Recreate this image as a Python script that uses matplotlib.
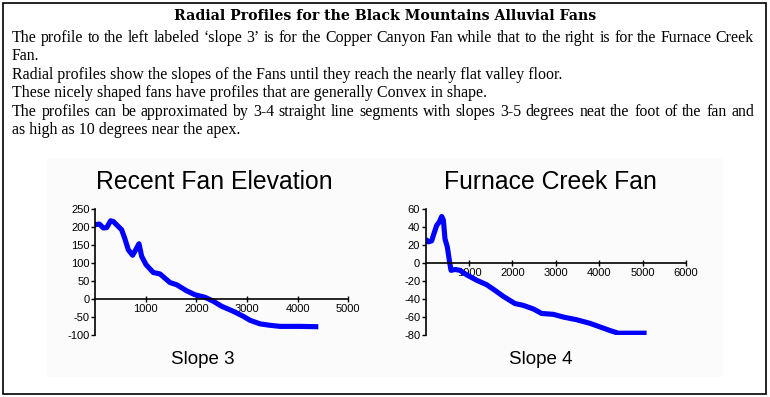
import matplotlib.pyplot as plt
from matplotlib.patches import Rectangle

# Copper Canyon fan ("Recent Fan Elevation"), distance (m) vs elevation (m)
left_x = [0, 85, 165, 230, 309, 362, 526, 592, 658, 743, 822, 868, 921, 1007, 1151,
          1283, 1382, 1480, 1612, 1809, 1974, 2171, 2336, 2500, 2730, 2928, 3059,
          3257, 3454, 3651, 4046, 4408]
left_y = [207, 209, 198, 199, 218, 216, 193, 167, 137, 122, 142, 154, 119, 96, 74,
          70, 58, 46, 40, 23, 12, 5, -6, -20, -34, -48, -59,
          -69, -73, -76, -76, -77]

# Furnace Creek fan
right_x = [0, 61, 138, 177, 253, 315, 369, 407, 445, 499, 545, 584, 676, 791, 945,
           1175, 1406, 1559, 1790, 2058, 2250, 2481, 2673, 2942, 3172, 3479, 3786,
           4017, 4247, 4439, 4708, 5092]
right_y = [26.7, 23.7, 24.9, 31, 42, 46, 52, 48, 27, 18, 3, -8, -7, -8, -13,
           -19, -24, -29, -37, -45, -47, -51, -56, -57, -60, -63, -67,
           -71, -75, -78, -78, -78]

left_xticks = [1000, 2000, 3000, 4000, 5000]
left_yticks = [-100, -50, 0, 50, 100, 150, 200, 250]
right_xticks = [1000, 2000, 3000, 4000, 5000, 6000]
right_yticks = [-80, -60, -40, -20, 0, 20, 40, 60]

title = "Radial Profiles for the Black Mountains Alluvial Fans"
body = [
    "The profile to the left labeled \u2018slope 3\u2019 is for the Copper Canyon Fan while that to the right is for the Furnace Creek",
    "Fan.",
    "Radial profiles show the slopes of the Fans until they reach the nearly flat valley floor.",
    "These nicely shaped fans have profiles that are generally Convex in shape.",
    "The profiles can be approximated  by 3-4 straight line segments with slopes 3-5 degrees neat the foot of the fan and",
    "as high as 10 degrees near the apex.",
]
justified = [True, False, False, False, True, False]

plt.rcParams["axes.unicode_minus"] = False

W, H = 770, 397
fig = plt.figure(figsize=(W / 100, H / 100), dpi=100)
renderer = fig.canvas.get_renderer()


def fx(px):
    return px / W


def fy(py):
    return 1 - py / H


# outer frame and faint chart background
fig.patches.append(Rectangle((fx(3), fy(394)), fx(763), 391 / H, transform=fig.transFigure,
                             fill=False, edgecolor="black", lw=1.2, zorder=5))
fig.patches.append(Rectangle((fx(47), fy(377)), fx(676), 219 / H, transform=fig.transFigure,
                             facecolor="#fbfbfb", edgecolor="none", zorder=-5))

fig.text(fx(385), fy(20), title, ha="center", va="baseline", family="DejaVu Serif",
         weight="bold", fontsize=10.2)

text_kw = dict(va="baseline", family="Liberation Serif", fontsize=11.45)
x0, x1 = 12, 754
for i, line in enumerate(body):
    yb = fy(42 + 18.4 * i)
    if not justified[i]:
        fig.text(fx(x0), yb, line, ha="left", **text_kw)
        continue
    # spread words so the line fills the box width
    words = line.split()
    widths = []
    for w in words:
        t = fig.text(0, 0, w, **text_kw)
        widths.append(t.get_window_extent(renderer).width)
        t.remove()
    gap = (x1 - x0 - sum(widths)) / (len(words) - 1)
    px = x0
    for w, wd in zip(words, widths):
        fig.text(fx(px), yb, w, ha="left", **text_kw)
        px += wd + gap


def profile(rect, xs, ys, xlim, ylim, xticks, yticks, name, slope, cx, sx):
    ax = fig.add_axes(rect)
    ax.patch.set_alpha(0)
    ax.plot(xs, ys, color="#0000ff", lw=3.7, solid_capstyle="butt")
    ax.set_xlim(*xlim)
    ax.set_ylim(*ylim)
    ax.spines["top"].set_visible(False)
    ax.spines["right"].set_visible(False)
    ax.spines["bottom"].set_position(("data", 0))
    for s in ("left", "bottom"):
        ax.spines[s].set_linewidth(1.2)
    ax.set_xticks(xticks)
    ax.set_yticks(yticks)
    ax.tick_params(axis="x", direction="inout", length=5, width=1, pad=1, labelsize=8)
    ax.tick_params(axis="y", direction="out", length=3, width=1, pad=1, labelsize=8)
    for lab in ax.get_xticklabels() + ax.get_yticklabels():
        lab.set_family("Liberation Sans")
    fig.text(fx(cx), fy(182), name, ha="center", va="center", family="Liberation Sans",
             fontsize=17.8)
    fig.text(fx(sx), fy(359), slope, ha="center", va="center",
             family="Liberation Sans", fontsize=13.5)
    return ax


profile([fx(95), 62 / H, 253.3 / W, 125.7 / H], left_x, left_y, (0, 5000), (-100, 250),
        left_xticks, left_yticks, "Recent Fan Elevation", "Slope 3", 214, 203)
profile([fx(425.7), 62 / H, 260.3 / W, 125.7 / H], right_x, right_y, (0, 6000), (-80, 60),
        right_xticks, right_yticks, "Furnace Creek Fan", "Slope 4", 550, 541)

fig.savefig("out.png", dpi=100)
plt.close(fig)
